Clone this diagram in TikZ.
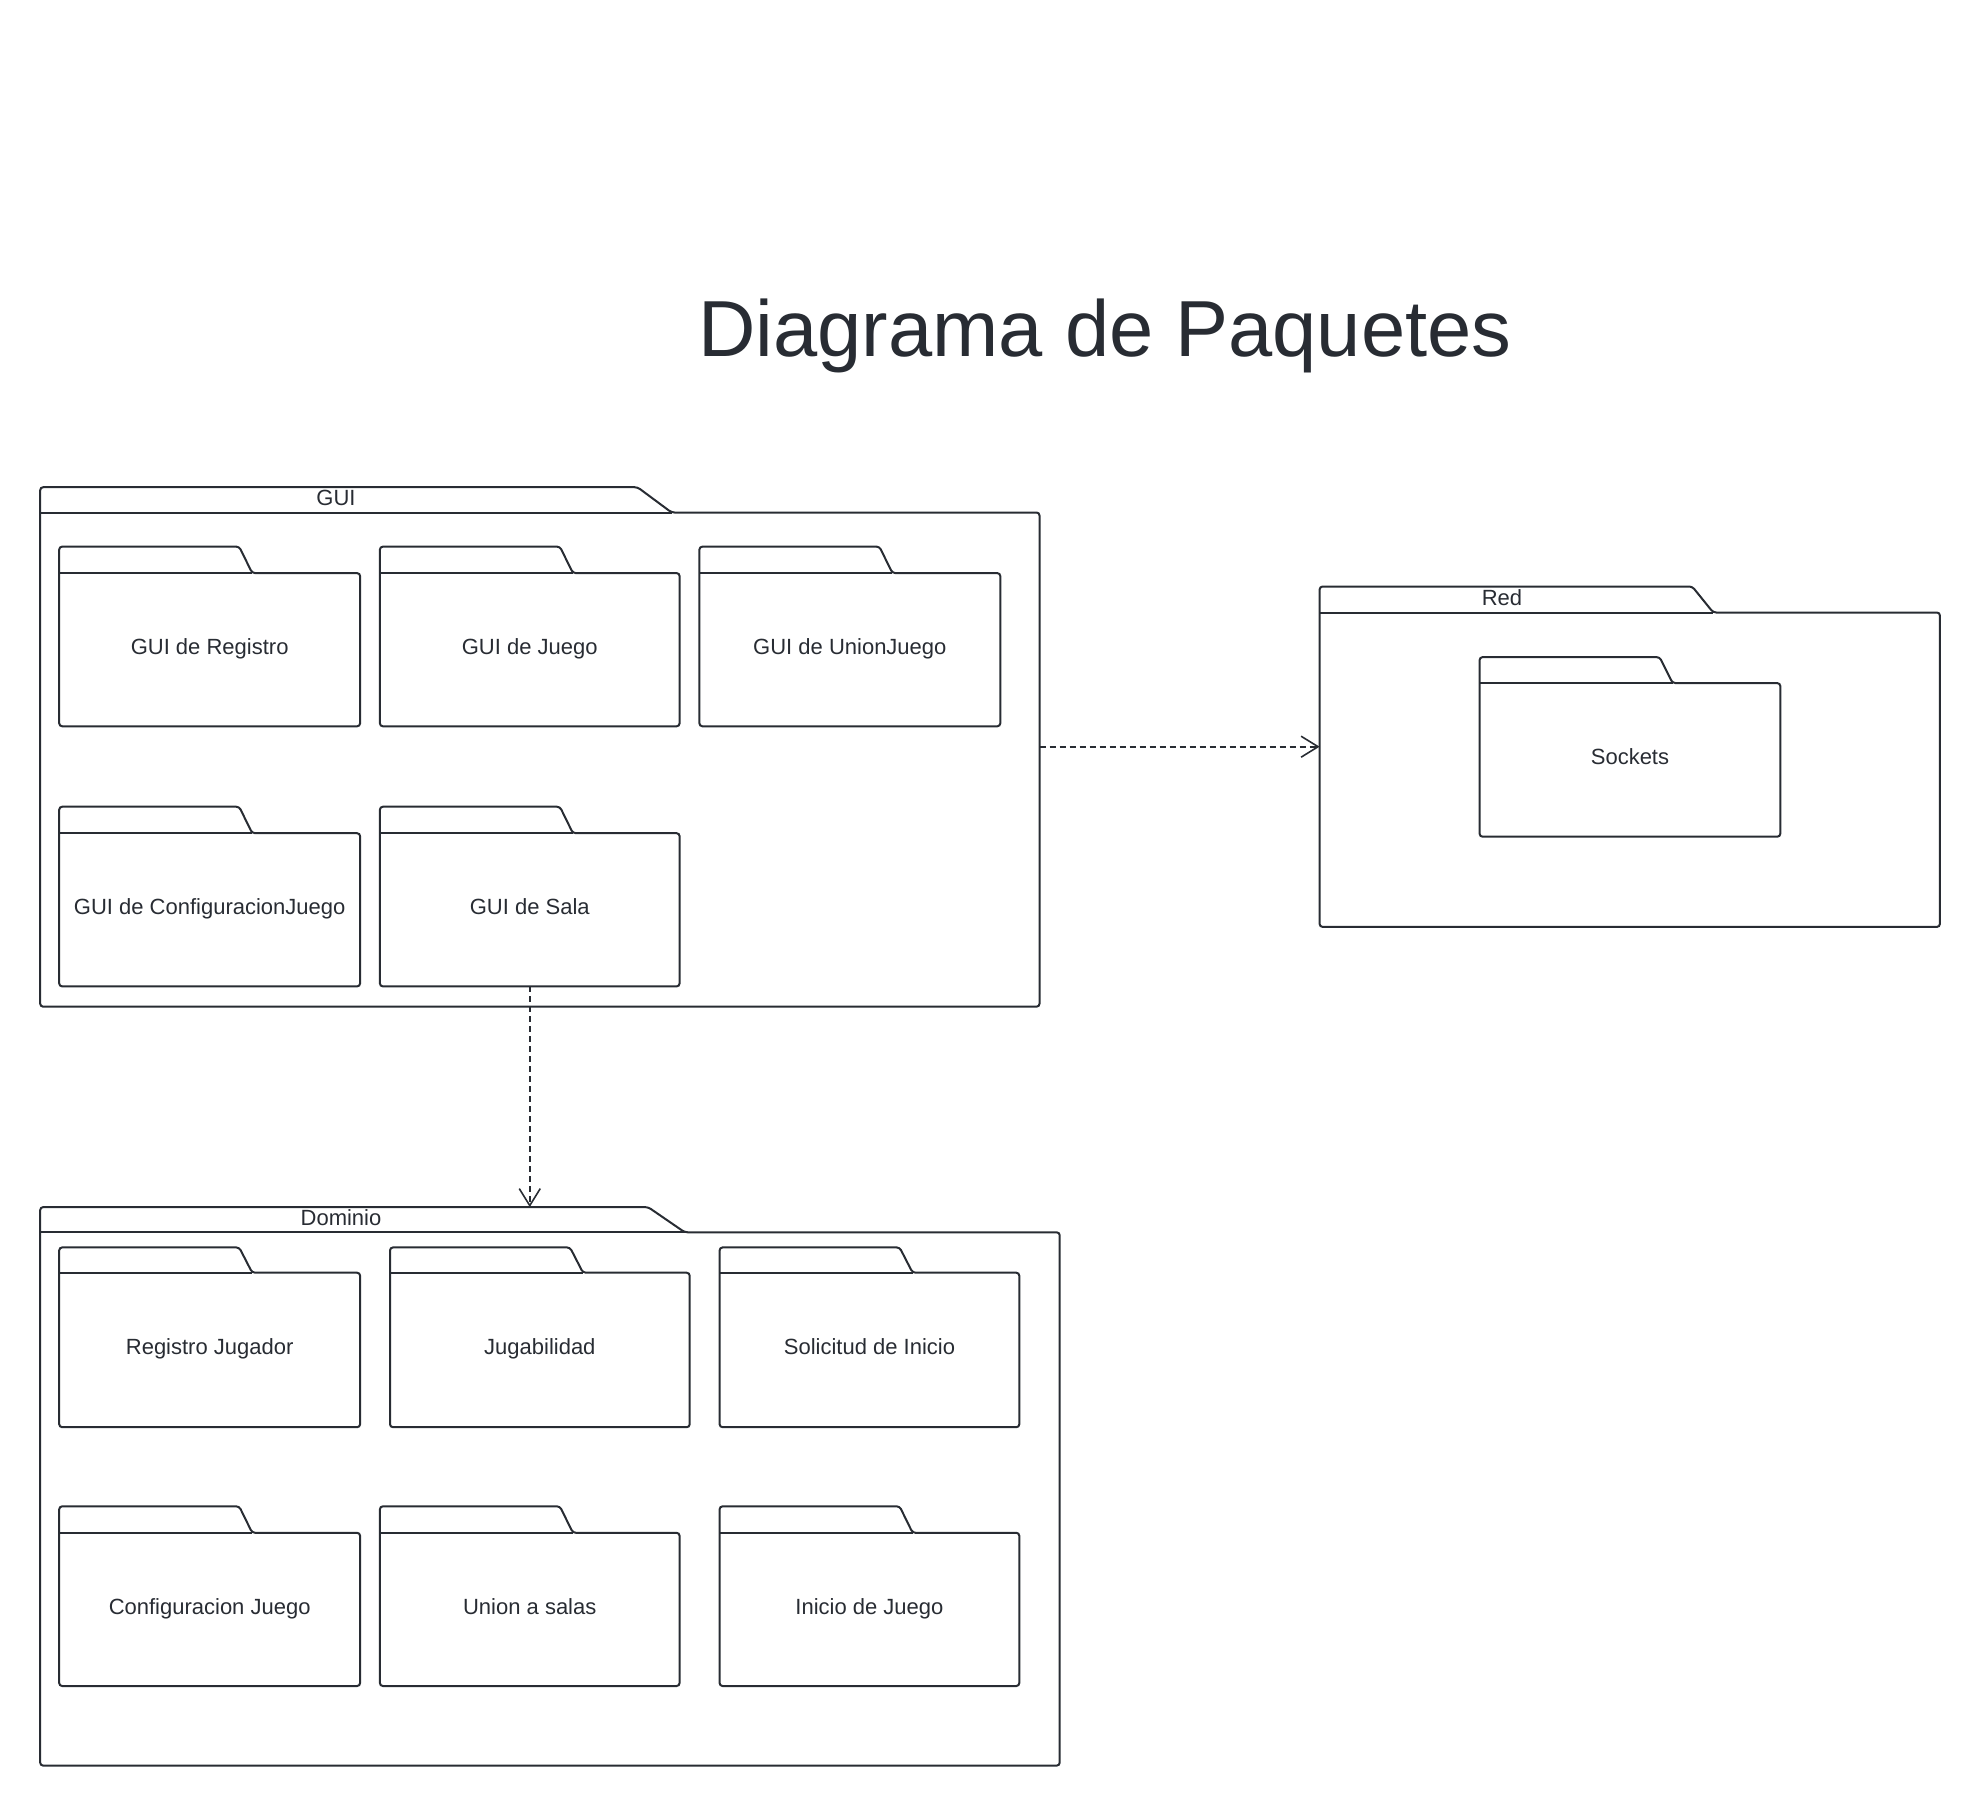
\documentclass[tikz,border=0pt]{standalone}
\usepackage{fontspec}
\setmainfont{Liberation Sans}
\usetikzlibrary{calc,arrows.meta}
\definecolor{ink}{HTML}{282C33}
\tikzset{
  pkline/.style={draw=ink, line width=2pt, rounded corners=3pt},
  pkbody/.style={rectangle, inner sep=0pt, text=ink, font=\fontsize{22}{26}\selectfont, align=center,
    text height=15.5pt, text depth=5.5pt},
  pklabel/.style={text=ink, font=\fontsize{22}{26}\selectfont, inner sep=0pt},
  dep/.style={draw=ink, line width=1.6pt, dash pattern=on 6pt off 4pt,
    -{Straight Barb[length=17pt,width=21pt,line width=1.6pt]}},
}
% name, x1, ytab, ybody, x2, y2, tab width, slant, text
\newcommand\pkg[9]{%
  \pgfmathsetmacro\pkW{#5-#2}\pgfmathsetmacro\pkH{#6-#4}%
  \pgfmathsetmacro\pkX{(#2+#5)/2}\pgfmathsetmacro\pkY{(#4+#6)/2}%
  \pgfmathsetmacro\pkT{#4-#3}%
  \node[pkbody, minimum width=\pkW pt, minimum height=\pkH pt] (#1) at (\pkX,\pkY) {#9};
  \coordinate (#1tab) at ($(#1.north west)+(0,-\pkT)$);
  \draw[pkline] ($(#1.north west)+(#7+#8,0)$) -| (#1.south east) -| (#1.north west)
     |- ($(#1.north west)+(#7,-\pkT)$) -- cycle;
  \draw[pkline] (#1.north west) -- ++(#7+#8,0);
}
\begin{document}
\begin{tikzpicture}[x=1pt,y=-1pt]
\useasboundingbox (0,0) rectangle (1980,1807);
\node[text=ink, font=\fontsize{79.5}{95}\selectfont, anchor=base, inner sep=0pt] (title) at (1105,356) {Diagrama de Paquetes};

% GUI
\pkg{gui}{40.4}{487.4}{512.7}{1039.3}{1006.5}{597.3}{34.1}{}
\node[pklabel] (guiL) at (336,497.5) {GUI};
\pkg{greg}{59.4}{546.8}{573.3}{359.9}{726.1}{180}{13}{GUI de Registro}
\pkg{gjue}{380.1}{546.8}{573.3}{679.4}{726.1}{180}{13}{GUI de Juego}
\pkg{guni}{699.6}{546.8}{573.3}{1000.1}{726.1}{180}{13}{GUI de UnionJuego}
\pkg{gcon}{59.4}{806.9}{833.4}{359.9}{986.2}{180}{13}{GUI de ConfiguracionJuego}
\pkg{sala}{380.1}{806.9}{833.4}{679.4}{986.2}{180}{13}{GUI de Sala}

% Red
\pkg{red}{1319.8}{586.7}{612.7}{1939.7}{926.7}{372.6}{21}{}
\node[pklabel] (redL) at (1502,597.5) {Red};
\pkg{sock}{1479.8}{657.3}{683.3}{1780.1}{836.5}{180}{13}{Sockets}

% Dominio
\pkg{dom}{40.4}{1207.3}{1232.5}{1059.5}{1765.4}{607.9}{36.7}{}
\node[pklabel] (domL) at (341,1217.5) {Dominio};
\pkg{dreg}{59.4}{1247.6}{1272.9}{359.9}{1427}{180}{13}{Registro Jugador}
\pkg{djug}{390.2}{1247.6}{1272.9}{689.5}{1427}{180}{13}{Jugabilidad}
\pkg{dsol}{719.8}{1247.6}{1272.9}{1019.1}{1427}{180}{13}{Solicitud de Inicio}
\pkg{dcon}{59.4}{1506.5}{1533}{359.9}{1685.8}{180}{13}{Configuracion Juego}
\pkg{duni}{380.1}{1506.5}{1533}{679.4}{1685.8}{180}{13}{Union a salas}
\pkg{dini}{719.8}{1506.5}{1533}{1019.1}{1685.8}{180}{13}{Inicio de Juego}

% dependencies
\coordinate (hy) at (0,746.7);
\draw[dep] (gui.east |- hy) -- (red.west |- hy);
\draw[dep] (sala.south) -- (sala.south |- domtab);
\end{tikzpicture}
\end{document}
